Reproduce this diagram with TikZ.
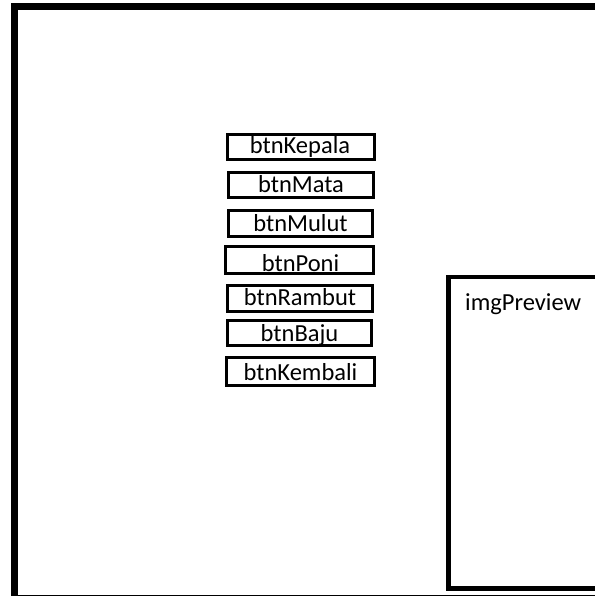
\documentclass[tikz,border=0pt]{standalone}
\usepackage{fontspec}
\setmainfont{Carlito}
\begin{document}
\begin{tikzpicture}[x=1pt,y=-1pt,
  btn/.style={draw=black,line width=2.5pt,rectangle,inner sep=0pt},
  lbl/.style={font=\fontsize{24.5}{26}\selectfont,inner sep=0pt,anchor=base}]
\useasboundingbox (0,0) rectangle (595,598);
\fill[white] (0,0) rectangle (595,598);
% outer frame
\draw[line width=7pt] (596,6.5) -- (14.5,6.5) -- (14.5,596);
\draw[line width=1.5pt] (11,595.5) -- (596,595.5);
% preview panel
\draw[line width=4.5pt] (596,277) -- (448.5,277) -- (448.5,588.5) -- (596,588.5);
\node[lbl,anchor=base west] (img) at (465,310) {imgPreview};
% buttons
\node[btn,minimum width=147pt,minimum height=25pt] (kepala) at (301,147) {};
\node[btn,minimum width=145pt,minimum height=25pt] (mata) at (301,185) {};
\node[btn,minimum width=144pt,minimum height=26pt] (mulut) at (300.5,223.5) {};
\node[btn,minimum width=148pt,minimum height=27pt] (poni) at (299.5,260) {};
\node[btn,minimum width=145pt,minimum height=26pt] (rambut) at (300,298.5) {};
\node[btn,minimum width=144pt,minimum height=25pt] (baju) at (299.5,333) {};
\node[btn,minimum width=148pt,minimum height=28pt] (kembali) at (300.5,371.5) {};
% button texts
\node[lbl] (tkepala) at ([xshift=-1pt,yshift=-6pt]kepala.center) {btnKepala};
\node[lbl] (tmata) at ([yshift=-7pt]mata.center) {btnMata};
\node[lbl] (tmulut) at ([yshift=-8pt]mulut.center) {btnMulut};
\node[lbl] (tponi) at ([xshift=1pt,yshift=-11pt]poni.center) {btnPoni};
\node[lbl] (trambut) at ([yshift=-6.5pt]rambut.center) {btnRambut};
\node[lbl] (tbaju) at ([yshift=-8pt]baju.center) {btnBaju};
\node[lbl] (tkembali) at ([yshift=-8.5pt]kembali.center) {btnKembali};
\end{tikzpicture}
\end{document}
